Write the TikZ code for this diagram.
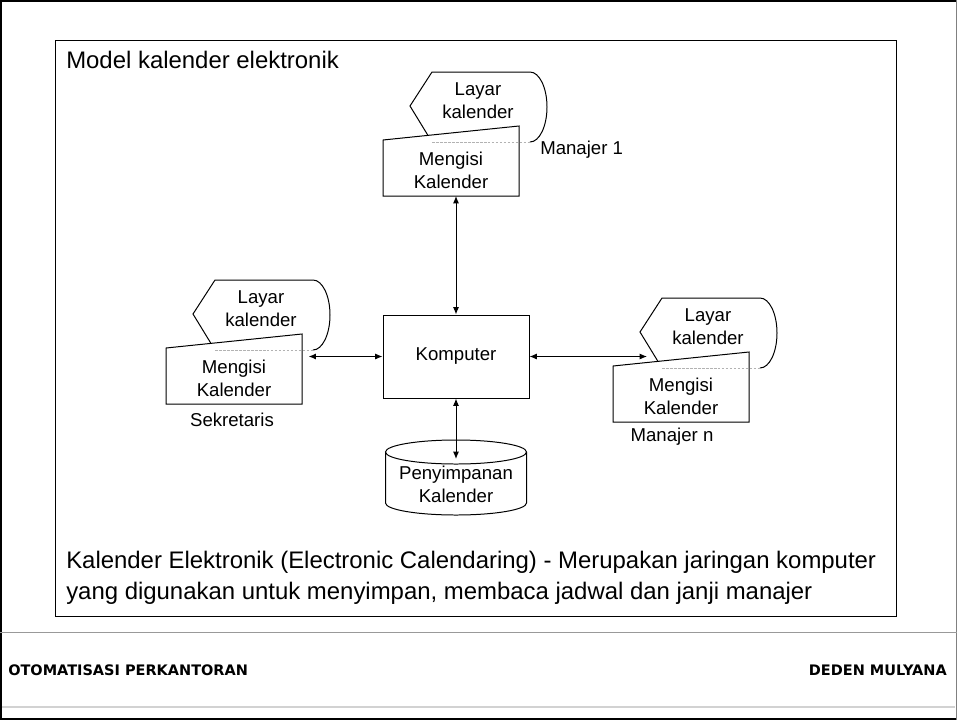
\documentclass[tikz,border=0pt]{standalone}
\usepackage{fontspec}
\setmainfont{Liberation Sans}
\newfontfamily\footfont{DejaVu Sans}
\usetikzlibrary{arrows.meta,positioning,calc}
\tikzset{
	isian/.style={minimum width=102.32pt, minimum height=52.66pt, inner sep=0, outer sep=0},
	teks/.style={align=center, inner sep=0, font=\fontsize{14}{17.5}\selectfont},
	besar/.style={align=left, inner sep=0, font=\fontsize{18}{23.3}\selectfont},
	kaki/.style={inner sep=0, font=\footfont\bfseries\fontsize{10.9}{13}\selectfont},
	box/.style={draw, line width=0.75pt, fill=white},
	conn/.style={<->, >={Latex[length=5.5pt,width=4.5pt]}, line width=0.75pt},
}
\newcommand{\lyr}{Layar\\kalender}
\newcommand{\isi}{Mengisi\\Kalender}

\begin{document}
\begin{tikzpicture}[x=0.75235pt, y=-0.75235pt]
	\useasboundingbox (0,0) rectangle (957,720);
	% slide frame
	\draw[line width=1.5pt] (0,1) -- (957,1);
	\draw[line width=1.5pt] (1,0) -- (1,720);
	\draw[line width=1.5pt] (0,718.5) -- (957,718.5);
	\draw[gray, line width=0.75pt] (956,0) -- (956,720);
	\draw[gray!80, line width=0.75pt] (0,632) -- (957,632);
	\draw[gray!35, line width=1.5pt] (2,707) -- (955,707);
	\draw[line width=0.75pt] (55,40) rectangle (896,616);
	\node[besar, anchor=base west] (judul) at (66,68) {Model kalender elektronik};
	% input stations
	\node[isian] (mi1) at (451,161) {};
	\node[isian] (mi2) at (234,369) {};
	\node[isian] (mi3) at (681,387) {};
	\foreach \m in {mi1,mi2,mi3}{
		\fill[white] ($(\m.north west)+(27,-20)$) -- ($(\m.north west)+(49,-54)$) -- ($(\m.north west)+(147,-54)$)
			arc[start angle=90, end angle=-90, x radius=12.79pt, y radius=26.33pt] -- ($(\m.north west)+(49,16)$) -- cycle;
		\draw[line width=0.75pt] ($(\m.north west)+(49,16)$) -- ($(\m.north west)+(27,-20)$) -- ($(\m.north west)+(49,-54)$)
			-- ($(\m.north west)+(147,-54)$) arc[start angle=90, end angle=-90, x radius=12.79pt, y radius=26.33pt];
		\draw[box] ($(\m.north west)+(0,14)$) -- (\m.north east) -- (\m.south east) -- (\m.south west) -- cycle;
		\draw[gray!60, line width=0.75pt, dash pattern=on 2pt off 1pt] ($(\m.north west)+(49,16)$) -- ($(\m.north west)+(147,16)$);
		\node[teks] (\m-ly) at ($(\m.north west)+(95,-25)$) {\lyr};
		\node[teks] (\m-is) at ($(\m)+(0,9)$) {\isi};
	}
	\node[teks, anchor=west] (lb1) at (540,150) {Manajer 1};
	\node[teks] (lb2) at (232,420) {Sekretaris};
	\node[teks] (lb3) at (672,437) {Manajer n};
	% computer and storage
	\node[box, teks, minimum width=109.84pt, minimum height=62.45pt] (komp) at (456,356.5) {Komputer};
	\draw[box] (385.5,452) -- (385.5,503) arc[start angle=180, end angle=360, x radius=53.04pt, y radius=9.03pt] -- (526.5,452);
	\draw[box] (456,452) ellipse[x radius=53.04pt, y radius=9.03pt];
	\node[teks] (stor) at (456,484) {Penyimpanan\\Kalender};
	\coordinate (storin) at (456,459);
	\coordinate (m3in) at (647,356.5);
	\path (komp.north |- mi1.south) edge[conn] (komp.north);
	\path (komp.west) edge[conn, shorten >=5pt] (komp.west -| mi2.east);
	\path (komp.east) edge[conn] (m3in);
	\path (komp.south) edge[conn] (storin);
	\node[besar, anchor=base west] (ket) at (66,599) {Kalender Elektronik (Electronic Calendaring) - Merupakan jaringan komputer\\yang digunakan untuk menyimpan, membaca jadwal dan janji manajer};
	% footer
	\node[kaki, anchor=west] (kiri) at (8,670) {OTOMATISASI PERKANTORAN};
	\node[kaki, anchor=east] (kanan) at (947,670) {DEDEN MULYANA};
\end{tikzpicture}
\end{document}
